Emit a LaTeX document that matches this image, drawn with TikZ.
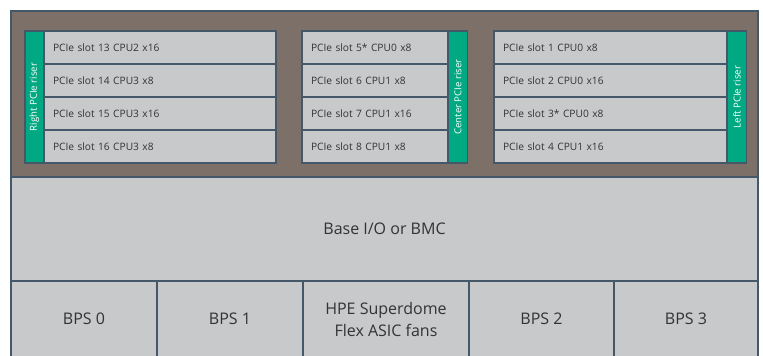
\documentclass[tikz,border=0pt]{standalone}
\usepackage{fontspec}
\setmainfont{Open Sans}
\usetikzlibrary{positioning}
\definecolor{hchassis}{HTML}{7D7068}
\definecolor{hedge}{HTML}{44586A}
\definecolor{hgrey}{HTML}{C8C9CB}
\definecolor{hgreen}{HTML}{01A982}
\definecolor{htext}{HTML}{333333}
\tikzset{
  chassis/.style={
    draw=hedge, fill=hchassis, line width=1.6pt, inner sep=0pt
  },
  slot/.style={
    draw=hedge, fill=hgrey, line width=1.2pt, minimum height=33pt,
    inner xsep=9pt, inner ysep=0pt, text width=#1, align=left,
    text=htext, font=\fontsize{10.2}{12}\selectfont
  },
  riser/.style={
    draw=hedge, fill=hgreen, line width=1.2pt, rotate=90,
    minimum width=132pt, minimum height=19pt, inner sep=0pt,
    text=white, font=\fontsize{9.6}{10}\selectfont
  },
  bay/.style={
    draw=hedge, fill=hgrey, line width=1.2pt, inner sep=0pt,
    align=center, text=htext, font=\fontsize{16}{22}\selectfont
  }
}

\begin{document}
\begin{tikzpicture}[x=1pt,y=-1pt]
  \useasboundingbox (0,0) rectangle (763,356);
  \fill[white] (0,0) rectangle (763,356);
  \node[chassis,minimum width=747pt,minimum height=166pt] (chassis) at (384.5,94) {};

  % right riser group
  \node[riser] (rriser) at (34.5,97) {Right PCIe riser};
  \node[slot=214pt] (s13) at (160,47.5) {PCIe slot 13 CPU2 x16};
  \node[slot=214pt] (s14) at (160,80.5) {PCIe slot 14 CPU3 x8};
  \node[slot=214pt] (s15) at (160,113.5) {PCIe slot 15 CPU3 x16};
  \node[slot=214pt] (s16) at (160,146.5) {PCIe slot 16 CPU3 x8};

  % center riser group
  \node[riser] (criser) at (458,97) {Center PCIe riser};
  \node[slot=128pt] (s5) at (375,47.5) {PCIe slot 5* CPU0 x8};
  \node[slot=128pt] (s6) at (375,80.5) {PCIe slot 6 CPU1 x8};
  \node[slot=128pt] (s7) at (375,113.5) {PCIe slot 7 CPU1 x16};
  \node[slot=128pt] (s8) at (375,146.5) {PCIe slot 8 CPU1 x8};

  % left riser group
  \node[riser] (lriser) at (737,97) {Left PCIe riser};
  \node[slot=215pt] (s1) at (610.5,47.5) {PCIe slot 1 CPU0 x8};
  \node[slot=215pt] (s2) at (610.5,80.5) {PCIe slot 2 CPU0 x16};
  \node[slot=215pt] (s3) at (610.5,113.5) {PCIe slot 3* CPU0 x8};
  \node[slot=215pt] (s4) at (610.5,146.5) {PCIe slot 4 CPU1 x16};

  % base and power bays
  \node[bay,minimum width=747pt,minimum height=104pt] (base) at (384.5,229) {Base I/O or BMC};
  \node[bay,minimum width=146pt,minimum height=76pt] (bps0) at (84,319) {BPS 0};
  \node[bay,minimum width=146pt,minimum height=76pt] (bps1) at (230,319) {BPS 1};
  \node[bay,minimum width=166pt,minimum height=76pt] (fans) at (386,319) {HPE Superdome\\Flex ASIC fans};
  \node[bay,minimum width=145pt,minimum height=76pt] (bps2) at (541.5,319) {BPS 2};
  \node[bay,minimum width=144pt,minimum height=76pt] (bps3) at (686,319) {BPS 3};
\end{tikzpicture}
\end{document}
